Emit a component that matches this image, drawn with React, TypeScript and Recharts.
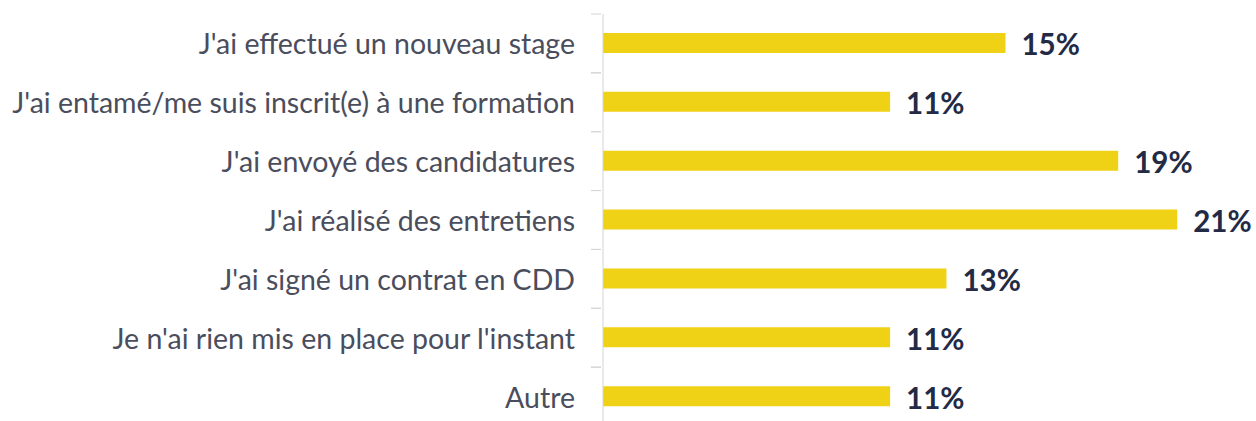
import React from "react";
import { BarChart, Bar, XAxis, YAxis, LabelList } from "recharts";

const categories = [
  "J'ai effectué un nouveau stage",
  "J'ai entamé/me suis inscrit(e) à une formation",
  "J'ai envoyé des candidatures",
  "J'ai réalisé des entretiens",
  "J'ai signé un contrat en CDD",
  "Je n'ai rien mis en place pour l'instant",
  "Autre",
];
const values = [15.0, 10.7, 19.2, 21.4, 12.8, 10.7, 10.7];
const valueLabels = ["15%", "11%", "19%", "21%", "13%", "11%", "11%"];

const data = categories.map((c, i) => ({ name: c, value: values[i], label: valueLabels[i] }));

const FONT = "Lato, 'Noto Sans', sans-serif";

const CategoryTick = (props: any) => {
  const { x, y, payload } = props;
  const off = payload && payload.offset ? payload.offset : 0;
  return (
    <g>
      <line x1={x} x2={x + 10} y1={y - off} y2={y - off} stroke="#d4d4d8" strokeWidth={1} />
      <line x1={x} x2={x + 10} y1={y + off} y2={y + off} stroke="#d4d4d8" strokeWidth={1} />
      <text
        x={x - 16}
        y={y}
        textAnchor="end"
        dominantBaseline="central"
        fill="#4a4d5c"
        fontSize={28.5}
        fontFamily={FONT}
      >
        {payload.value}
      </text>
    </g>
  );
};

export default function App() {
  return (
    <div
      style={{
        position: "absolute",
        left: 0,
        top: 0,
        width: 1256,
        height: 421,
        overflow: "hidden",
        background: "#fff",
      }}
    >
      <BarChart
        width={1256}
        height={440}
        data={data}
        layout="vertical"
        margin={{ top: 14, right: 9, bottom: 14, left: 0 }}
        barSize={20}
      >
        <XAxis type="number" hide domain={[0, 24]} />
        <YAxis
          type="category"
          dataKey="name"
          width={603}
          axisLine={{ stroke: "#d4d4d8" }}
          tickLine={false}
          tickSize={10}
          tick={<CategoryTick />}
          interval={0}
        />
        <Bar dataKey="value" fill="#EFD116" isAnimationActive={false}>
          <LabelList
            dataKey="label"
            position="right"
            offset={16}
            dy={2}
            fill="#232a45"
            fontSize={29.5}
            fontWeight={700}
            fontFamily={FONT}
          />
        </Bar>
      </BarChart>
    </div>
  );
}
